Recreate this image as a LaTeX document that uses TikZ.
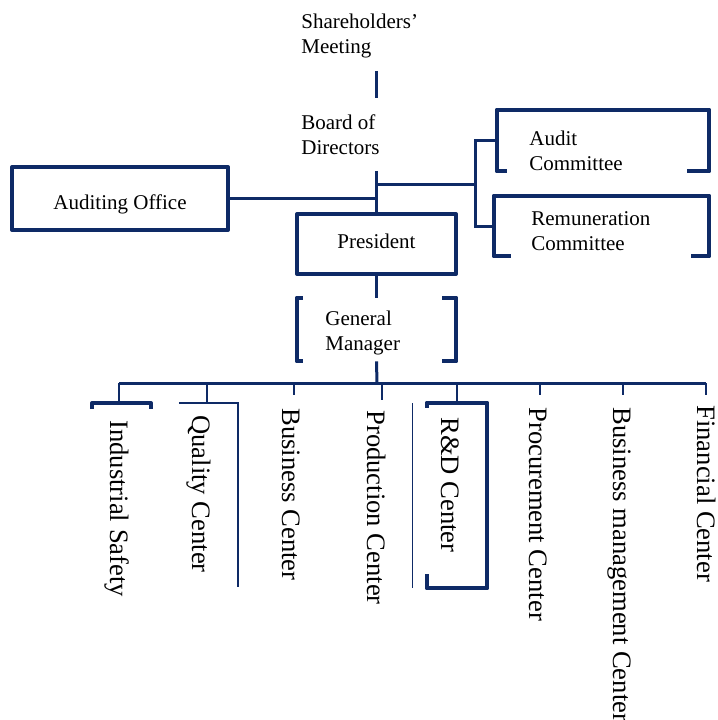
\documentclass[tikz,border=0pt]{standalone}
\usepackage{fontspec}
\setmainfont{Liberation Serif}
\definecolor{navy}{HTML}{0E2A66}
\tikzset{
  boxline/.style={draw=navy, line width=2pt, line join=round},
  link/.style={draw=navy, line width=1.5pt},
  droplink/.style={draw=navy, line width=1.3pt},
  thinlink/.style={draw=navy, line width=0.8pt},
  hairlink/.style={draw=navy, line width=0.5pt},
  lbl/.style={font=\fontsize{10.5}{12.5}\selectfont, align=left, inner sep=0pt},
  unit/.style={font=\fontsize{13.3}{16}\selectfont, rotate=-90, anchor=west, inner sep=0pt, text height=0.7em, text depth=0.25em},
}

\begin{document}
\begin{tikzpicture}[x=0.5pt,y=0.5pt,yscale=-1,xscale=1]
\useasboundingbox (0,0) rectangle (718,720);

% top levels
\node[lbl, anchor=north west, inner ysep=6pt] (share) at (301,2) {Shareholders'\\Meeting};
\node[lbl, anchor=north west, inner ysep=8pt] (board) at (301,98) {Board of\\Directors};
\node[boxline, lbl, minimum width=108pt, minimum height=31.5pt, align=center, text height=10.5pt, text depth=0pt] (auditoff) at (120,198.5) {Auditing Office};
\node[boxline, lbl, minimum width=79.5pt, minimum height=30pt, align=center, text height=7pt, text depth=3pt] (pres) at (376.5,244) {President};
\node[minimum width=79.5pt, minimum height=31.5pt, inner sep=0pt] (gm) at (376.5,329.5) {};
\node[lbl, anchor=north west] (gmtext) at (325,311) {General\\Manager};

% committees
\node[minimum width=106pt, minimum height=30.5pt, inner sep=0pt] (audc) at (603,140.5) {};
\node[lbl, anchor=north west] (audctext) at (529,131) {Audit\\Committee};
\node[minimum width=107.5pt, minimum height=30pt, inner sep=0pt] (remc) at (601.5,226) {};
\node[lbl, anchor=north west] (remctext) at (531,211) {Remuneration\\Committee};
\coordinate (cj) at (476,184);

\draw[boxline] ([xshift=5pt]audc.south west) -- (audc.south west) -- (audc.north west) -- (audc.north east) -- (audc.south east) -- ([xshift=-11pt]audc.south east);
\draw[boxline] ([xshift=8.5pt]remc.south west) -- (remc.south west) -- (remc.north west) -- (remc.north east) -- (remc.south east) -- ([xshift=-9pt]remc.south east);
\draw[boxline] ([xshift=3pt]gm.north west) -- (gm.north west) -- (gm.south west) -- ([xshift=3pt]gm.south west);
\draw[boxline] ([xshift=-7pt]gm.north east) -- (gm.north east) -- (gm.south east) -- ([xshift=-7pt]gm.south east);

\draw[link] (share.south -| pres.north) -- (board.north -| pres.north);
\draw[link] (board.south -| pres.north) -- (pres.north);
\draw[link] (auditoff.east) -- (auditoff.east -| pres.north);
\draw[link] (cj -| pres.north) -- (cj);
\draw[link] (audc.west) -| (cj) |- (remc.west);
\draw[link] (pres.south) -- (gm.north);

% centers
\coordinate (bus) at (377,383);
\coordinate (d1) at (119,403);
\coordinate (d2) at (207,403);
\coordinate (d3) at (294,395);
\coordinate (d4) at (382,400);
\coordinate (d5) at (457,403);
\coordinate (d6) at (540,395);
\coordinate (d7) at (623,395);
\coordinate (d8) at (706,395);
\draw[link] (gm.south) -- (bus);
\draw[link] (d1 |- bus) -- (d8 |- bus);
\foreach \d in {d1,d2,d3,d4,d5,d6,d7,d8}
  \draw[droplink] (\d |- bus) -- (\d);

\node[minimum width=30pt, minimum height=92.5pt, inner sep=0pt] (rd) at (457,495.5) {};
\draw[boxline] (rd.north west) ++(0,5) -- (rd.north west) -- (rd.north east) -- (rd.south east) -- (rd.south west) -- ++(0,-14);
\draw[boxline] (92,409) -- (92,403) -- (151,403) -- (151,409);
\draw[thinlink] (179,403) -- (238,403) -- (238,587);
\draw[hairlink] (413,403) -- (413,588);

\node[unit] (ind) at (115,420) {Industrial Safety};
\node[unit] (qual) at (197,415) {Quality Center};
\node[unit] (busc) at (287,408) {Business Center};
\node[unit] (prod) at (372,410) {Production Center};
\node[unit] (rdl) at (446,417) {R\&D Center};
\node[unit] (proc) at (534,407) {Procurement Center};
\node[unit] (bmc) at (618,407) {Business management Center};
\node[unit] (fin) at (702,405) {Financial Center};
\end{tikzpicture}
\end{document}
